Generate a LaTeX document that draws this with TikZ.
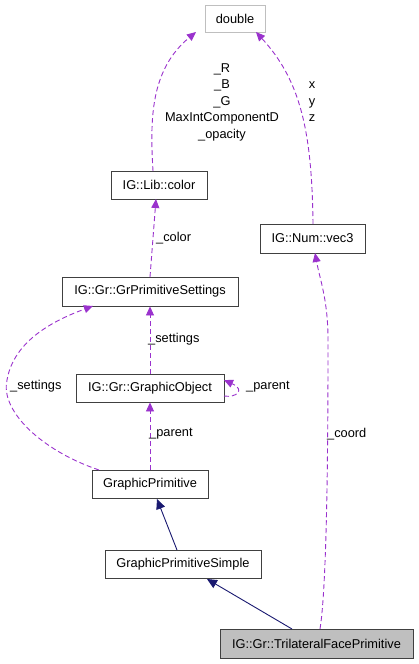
\documentclass[tikz,border=0pt]{standalone}
\usepackage{fontspec}
\setmainfont{Liberation Sans}
\usetikzlibrary{arrows.meta}
\definecolor{purp}{HTML}{9A32CD}
\definecolor{navy}{HTML}{191970}
\definecolor{boxline}{HTML}{404040}
\definecolor{greyfill}{HTML}{BFBFBF}
\tikzset{
  cls/.style={draw=boxline,line width=0.9pt,fill=white,inner sep=0pt,font=\fontsize{12.8}{15}\selectfont},
  usedby/.style={draw=purp,line width=0.9pt,dash pattern=on 5pt off 3pt,-{Triangle[length=9pt,width=8pt,fill=purp]}},
  inherit/.style={draw=navy,line width=0.9pt,-{Triangle[length=10pt,width=9pt,fill=navy]}},
  lbl/.style={font=\fontsize{12.8}{16.5}\selectfont,inner sep=0pt,align=center}
}
\begin{document}
\begin{tikzpicture}[x=1pt,y=-1pt]
\useasboundingbox (0,0) rectangle (418,664);
\node[cls,draw=greyfill,minimum width=60pt,minimum height=27pt] (dbl) at (235,18.5) {double};
\node[cls,minimum width=96pt,minimum height=28pt] (col) at (159,185) {IG::Lib::color};
\node[cls,minimum width=105pt,minimum height=29pt] (vec) at (312.5,238.5) {IG::Num::vec3};
\node[cls,minimum width=176pt,minimum height=29pt] (gps) at (150,291.5) {IG::Gr::GrPrimitiveSettings};
\node[cls,minimum width=148pt,minimum height=28pt] (gob) at (150,388) {IG::Gr::GraphicObject};
\node[cls,minimum width=116pt,minimum height=28pt] (gp) at (150,484) {GraphicPrimitive};
\node[cls,minimum width=156pt,minimum height=28pt] (gpsim) at (183,564) {GraphicPrimitiveSimple};
\node[cls,fill=greyfill,minimum width=193pt,minimum height=29pt] (tri) at (316.5,643.5) {IG::Gr::TrilateralFacePrimitive};
\coordinate (colT) at (153,171);
\coordinate (dblBL) at (196,32);
\coordinate (vecT) at (313,224);
\coordinate (dblBR) at (256,32);
\coordinate (gpsBL) at (93,306);
\coordinate (gpTL) at (99,470);
\coordinate (triT) at (320,629);
\coordinate (vecB) at (315,253);
\coordinate (gpsB) at (150,277);
\coordinate (colB) at (156,199);
\coordinate (gobR1) at (224,396);
\coordinate (gobR2) at (224,380);
\coordinate (gpsimT) at (177,550);
\coordinate (gpB) at (157,499);
\coordinate (triTL) at (292,629);
\coordinate (gpsimB) at (207,579);
\draw[usedby] (colT) .. controls (150,120) and (150,70) .. (dblBL);
\node[lbl] (lblc) at (222,102) {\_R\\\_B\\\_G\\MaxIntComponentD\\\_opacity};
\draw[usedby] (vecT) .. controls (312,130) and (300,80) .. (dblBR);
\node[lbl] (lblv) at (312,102) {x\\y\\z};
\draw[usedby] (gpsB) -- (colB);
\node[lbl,anchor=west] (lcolor) at (156,238) {\_color};
\draw[usedby] (gob.north) -- (gps.south);
\node[lbl,anchor=west] (lset) at (148,339) {\_settings};
\draw[usedby] (gobR1) .. controls (236,398) and (246,390) .. (gobR2);
\node[lbl,anchor=west] (lpar1) at (246,387) {\_parent};
\draw[usedby] (gp.north) -- (gob.south);
\node[lbl,anchor=west] (lpar2) at (149,434) {\_parent};
\draw[usedby] (gpTL) .. controls (40,450) and (0,410) .. (7,380) .. controls (14,340) and (55,320) .. (gpsBL);
\node[lbl,anchor=west] (lset2) at (10,386) {\_settings};
\draw[inherit] (gpsimT) -- (gpB);
\draw[inherit] (triTL) -- (gpsimB);
\draw[usedby] (triT) .. controls (328,580) and (328,400) .. (328,340) .. controls (328,300) and (320,280) .. (vecB);
\node[lbl,anchor=west] (lcoord) at (327,434) {\_coord};
\end{tikzpicture}
\end{document}
